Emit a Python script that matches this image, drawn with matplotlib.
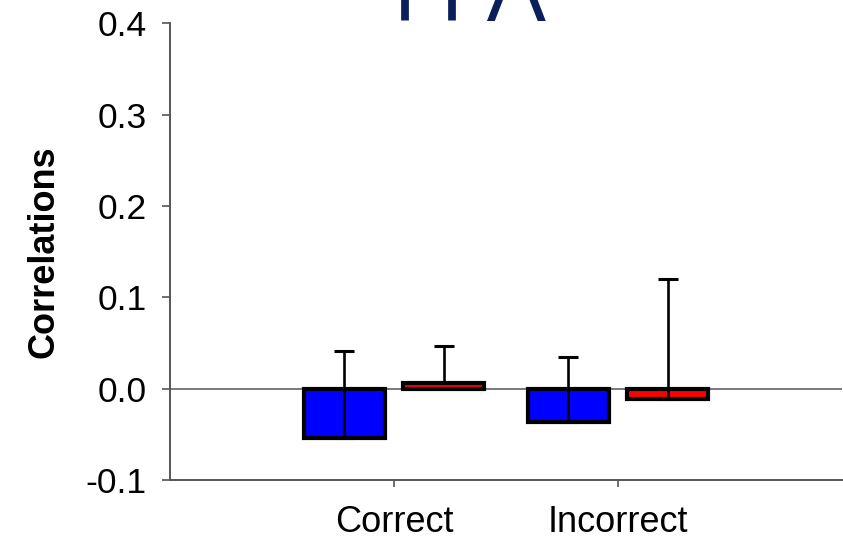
import numpy as np
import matplotlib.pyplot as plt

plt.rcParams['font.family'] = ['Liberation Sans', 'DejaVu Sans']

# mean correlations per response type, with one-sided (upper) error bars
groups = ["Correct", "Incorrect"]
blue_vals = [-0.054, -0.037]
blue_err = [0.095, 0.072]
red_vals = [0.006, -0.0115]
red_err = [0.041, 0.1315]
yticks = [-0.1, 0.0, 0.1, 0.2, 0.3, 0.4]

fig = plt.figure(figsize=(8.43, 5.42), dpi=100)
ax = fig.add_axes([170 / 843, 1 - 480 / 542, 672 / 843, (480 - 23.3) / 542])

x = np.arange(1, len(groups) + 1)
width = 0.36
offset = 0.222

ax.axhline(0, color='#555555', lw=1.1, zorder=1)

for vals, errs, dx, color in [(blue_vals, blue_err, -offset, '#0000ff'),
                              (red_vals, red_err, offset, '#ff0000')]:
    ax.bar(x + dx, vals, width, color=color, edgecolor='black', linewidth=3, zorder=2)
    ax.errorbar(x + dx, vals, yerr=[np.zeros(len(errs)), errs], fmt='none',
                ecolor='black', elinewidth=1.9, capsize=7.5, capthick=2.2, zorder=3)

ax.set_xlim(0, 3.0)
ax.set_ylim(-0.1, 0.4)
ax.set_xticks(x)
ax.set_xticklabels(groups, fontsize=26)
ax.set_yticks(yticks)
ax.set_yticklabels([f"{v:.1f}" for v in yticks], fontsize=25.5)
ax.set_ylabel("Correlations", fontsize=26, fontweight='bold', labelpad=17)

for side in ['top', 'right']:
    ax.spines[side].set_visible(False)
for side in ['left', 'bottom']:
    ax.spines[side].set_color('#555555')
    ax.spines[side].set_linewidth(1.4)

ax.tick_params(axis='y', direction='out', length=6, width=1.2, color='#555555', pad=11)
ax.tick_params(axis='x', direction='out', length=5, width=1.2, color='#555555', pad=13)

fig.text(0.557, 0.962, "FFA", ha='center', va='baseline', fontsize=67,
         color='#0b1f5b', family=['Open Sans', 'DejaVu Sans'])

fig.savefig("out.png", dpi=100)
